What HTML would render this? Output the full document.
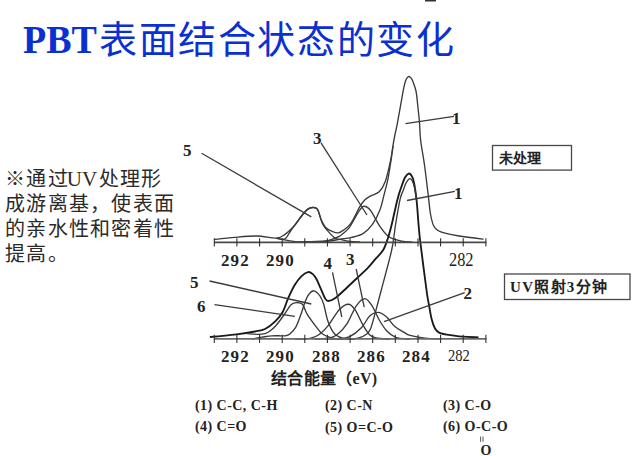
<!DOCTYPE html>
<html lang="zh-CN"><head><meta charset="utf-8">
<style>
html,body{margin:0;padding:0;background:#fff;}
body{width:640px;height:456px;position:relative;overflow:hidden;}
.a{position:absolute;white-space:nowrap;line-height:1;}
.sf{font-family:"Liberation Serif",serif;}
.ss{font-family:"Liberation Sans",sans-serif;}
.b{font-weight:bold;}
svg{position:absolute;left:0;top:0;}
</style></head><body>
<svg width="640" height="456" viewBox="0 0 640 456">
<path d="M214.2,239.5 C217.7,239.1 227.9,237.9 235.0,237.3 C242.1,236.7 250.1,235.9 257.0,236.0 C263.9,236.1 271.6,238.4 276.3,238.1 C281.0,237.8 281.9,236.6 285.0,234.4 C288.1,232.2 292.1,228.2 295.0,225.0 C297.9,221.8 300.4,217.6 302.5,215.0 C304.6,212.4 305.8,210.7 307.5,209.4 C309.2,208.2 310.8,207.5 312.5,207.5 C314.2,207.5 316.0,207.3 317.5,209.4 C319.0,211.5 319.8,216.9 321.3,220.0 C322.8,223.1 324.4,226.2 326.3,228.1 C328.2,230.0 330.5,230.7 332.5,231.5 C334.5,232.3 336.4,233.1 338.4,232.8 C340.4,232.5 342.5,230.9 344.5,229.5 C346.5,228.1 348.6,226.4 350.3,224.2 C352.1,221.9 353.5,218.8 355.0,216.0 C356.5,213.2 357.9,209.8 359.5,207.1 C361.1,204.4 362.8,201.8 364.7,199.9 C366.6,198.0 368.4,197.2 370.8,195.8 C373.2,194.4 376.8,194.1 379.2,191.7 C381.6,189.3 383.5,186.5 385.4,181.2 C387.3,176.0 389.4,165.9 390.6,160.4 C391.8,154.9 392.0,151.9 392.6,148.0 C393.2,144.1 393.7,141.2 394.5,137.0 C395.3,132.8 396.1,130.0 397.5,122.6 C398.9,115.2 401.5,99.7 402.8,92.8 C404.1,85.9 404.6,83.7 405.5,81.0 C406.4,78.3 407.3,77.3 408.1,76.7 C408.9,76.1 409.8,76.9 410.5,77.5 C411.2,78.1 411.6,78.2 412.5,80.5 C413.4,82.8 415.1,86.9 416.0,91.0 C416.9,95.1 417.1,99.7 417.7,105.0 C418.3,110.3 419.0,116.8 419.5,122.6 C420.0,128.4 419.8,132.9 420.6,140.0 C421.4,147.1 423.2,155.6 424.5,165.0 C425.8,174.4 427.4,188.4 428.4,196.6 C429.4,204.8 429.6,209.2 430.5,214.0 C431.4,218.8 432.2,222.8 433.5,225.5 C434.8,228.2 436.1,229.2 438.0,230.5 C439.9,231.8 441.5,232.3 445.0,233.2 C448.5,234.1 452.6,235.0 459.0,236.0 C465.4,237.0 479.5,238.7 483.6,239.2" stroke="#3a3a3a" stroke-width="1.35" fill="none"/>
<path d="M300.0,242.0 C304.2,241.9 318.4,241.9 325.0,241.5 C331.6,241.1 335.3,240.0 339.7,239.3 C344.1,238.6 347.7,238.4 351.6,237.4 C355.6,236.4 359.9,235.6 363.4,233.4 C366.9,231.2 369.8,228.1 372.6,224.2 C375.4,220.2 378.1,214.6 380.0,209.7 C381.9,204.8 382.8,199.7 384.0,195.0 C385.2,190.3 386.4,186.2 387.5,181.2 C388.6,176.2 389.5,169.7 390.3,165.0 C391.1,160.3 391.6,156.2 392.1,153.0 C392.6,149.8 392.9,147.2 393.1,146.0" stroke="#3a3a3a" stroke-width="1.35" fill="none"/>
<path d="M276.3,238.3 C277.8,238.4 282.5,240.1 285.0,238.8 C287.5,237.4 288.5,233.8 291.2,230.0 C294.0,226.2 298.5,219.7 301.2,216.2 C304.0,212.8 305.6,210.9 307.5,209.4 C309.4,207.9 310.8,207.5 312.5,207.5 C314.2,207.5 315.8,206.7 317.5,209.4 C319.2,212.1 320.8,220.2 322.5,223.8 C324.2,227.3 325.4,228.2 327.5,230.6 C329.6,233.0 332.9,236.6 335.0,238.1 C337.1,239.6 337.5,238.8 340.0,239.4 C342.5,240.0 346.7,241.1 350.0,241.5 C353.3,241.9 358.3,241.9 360.0,242.0" stroke="#3a3a3a" stroke-width="1.35" fill="none"/>
<path d="M276.3,238.1 C278.6,238.6 286.1,240.2 290.0,240.8 C293.9,241.4 296.7,241.7 300.0,241.9 C303.3,242.1 308.3,242.1 310.0,242.2" stroke="#3a3a3a" stroke-width="1.35" fill="none"/>
<path d="M305.0,242.0 C308.3,241.8 320.5,241.4 325.0,241.0 C329.5,240.6 329.4,240.1 331.8,239.3 C334.2,238.5 336.9,237.9 339.7,236.1 C342.5,234.2 345.8,232.1 348.9,228.2 C352.0,224.2 355.8,216.0 358.2,212.4 C360.6,208.8 361.6,207.1 363.4,206.4 C365.1,205.7 367.2,207.2 368.7,208.4 C370.2,209.6 370.9,210.9 372.6,213.7 C374.4,216.5 376.6,221.5 379.2,225.3 C381.8,229.1 384.8,233.8 388.5,236.5 C392.2,239.2 397.7,240.3 401.6,241.2 C405.5,242.1 410.3,241.9 412.0,242.0" stroke="#3a3a3a" stroke-width="1.35" fill="none"/>
<path d="M209.9,337.0 C214.3,336.6 229.1,335.2 236.6,334.3 C244.1,333.4 250.3,332.4 255.0,331.5 C259.7,330.6 261.6,330.7 265.0,329.0 C268.4,327.3 272.6,323.9 275.5,321.1 C278.4,318.3 280.6,315.8 282.7,312.0 C284.8,308.2 286.2,302.7 288.2,298.2 C290.2,293.7 292.5,288.6 294.7,285.0 C296.9,281.4 299.1,278.4 301.3,276.3 C303.5,274.2 306.0,272.5 307.9,272.1 C309.8,271.7 311.3,272.9 312.8,274.1 C314.3,275.3 315.3,276.9 316.7,279.5 C318.1,282.1 319.7,286.3 321.1,289.4 C322.5,292.5 323.8,296.3 325.0,298.2 C326.2,300.1 326.5,301.0 328.2,301.0 C329.9,301.0 332.0,300.4 335.0,298.3 C338.0,296.2 342.4,291.8 346.3,288.2 C350.2,284.6 354.7,280.3 358.2,277.0 C361.7,273.7 364.5,271.4 367.4,268.4 C370.2,265.4 372.7,262.3 375.3,259.2 C377.9,256.1 381.1,253.5 383.2,250.0 C385.3,246.5 386.6,242.2 388.0,238.0 C389.4,233.8 390.0,231.5 391.6,225.0 C393.2,218.5 395.8,205.9 397.5,199.2 C399.2,192.5 400.9,188.3 402.1,184.7 C403.4,181.1 403.9,179.3 405.0,177.5 C406.1,175.7 407.6,173.9 408.7,173.6 C409.8,173.3 410.6,174.1 411.5,175.5 C412.4,176.9 413.0,177.9 413.9,182.1 C414.8,186.3 415.8,193.3 416.6,200.5 C417.4,207.7 418.0,218.1 418.6,225.0 C419.2,231.9 419.0,231.2 420.3,242.0 C421.6,252.8 425.1,279.6 426.5,290.0 C427.9,300.4 428.0,299.7 428.9,304.5 C429.8,309.3 430.6,315.1 431.6,319.0 C432.6,322.9 433.6,325.9 434.9,328.2 C436.2,330.5 436.6,331.6 439.5,332.8 C442.4,334.0 448.7,334.8 452.6,335.4 C456.5,336.0 458.7,336.4 463.0,336.7 C467.3,337.0 475.9,337.2 478.5,337.3" stroke="#1a1a1a" stroke-width="1.85" fill="none"/>
<path d="M247.0,333.6 C248.8,333.7 255.0,334.4 258.0,334.4 C261.0,334.4 263.0,334.2 265.0,333.6 C267.0,333.0 268.2,332.4 270.0,331.0 C271.8,329.6 273.7,328.1 276.0,325.5 C278.3,322.9 281.1,319.0 283.6,315.5 C286.2,312.0 289.0,306.6 291.3,304.5 C293.6,302.4 295.6,302.7 297.5,302.7 C299.4,302.7 301.1,302.6 302.7,304.5 C304.3,306.4 304.9,310.5 307.1,314.1 C309.3,317.8 313.3,323.0 315.9,326.4 C318.5,329.8 319.7,332.2 322.9,334.3 C326.1,336.4 331.3,337.9 335.0,338.7 C338.7,339.5 343.3,339.1 345.0,339.2" stroke="#3a3a3a" stroke-width="1.35" fill="none"/>
<path d="M252.0,339.0 C253.7,338.7 258.7,337.7 262.0,337.2 C265.3,336.7 268.8,336.0 272.0,335.8 C275.2,335.6 278.7,335.8 281.0,335.8 C283.3,335.8 284.5,335.9 286.0,335.6 C287.5,335.3 288.2,335.5 289.8,334.1 C291.4,332.7 294.0,330.4 295.8,327.2 C297.6,324.0 299.1,319.5 300.7,315.1 C302.3,310.7 304.1,304.2 305.5,300.7 C306.9,297.2 307.7,295.6 309.1,294.0 C310.5,292.4 312.1,290.5 313.9,290.8 C315.7,291.1 318.3,293.6 319.9,295.8 C321.5,298.0 322.2,299.6 323.6,304.0 C325.0,308.4 326.3,316.9 328.2,322.0 C330.1,327.1 332.3,331.5 335.0,334.3 C337.7,337.1 341.2,337.9 344.5,338.7 C347.8,339.5 353.2,339.1 355.0,339.2" stroke="#3a3a3a" stroke-width="1.35" fill="none"/>
<path d="M295.0,339.2 C297.5,339.1 306.0,339.2 310.0,338.4 C314.0,337.6 316.1,336.7 319.2,334.5 C322.3,332.3 325.1,329.4 328.4,325.3 C331.7,321.2 335.9,313.2 339.2,309.7 C342.5,306.2 345.8,304.2 348.4,304.2 C351.0,304.2 352.6,306.2 355.0,309.7 C357.4,313.1 360.5,320.7 362.9,324.9 C365.3,329.1 367.3,332.5 369.5,334.7 C371.7,336.9 372.6,337.2 376.0,338.0 C379.4,338.8 387.7,339.0 390.0,339.2" stroke="#3a3a3a" stroke-width="1.35" fill="none"/>
<path d="M315.0,339.2 C317.5,339.0 326.2,338.9 330.0,338.0 C333.8,337.1 335.0,336.5 337.9,334.1 C340.8,331.7 344.0,328.3 347.1,323.6 C350.2,318.9 353.3,310.0 356.3,305.8 C359.3,301.6 362.3,298.6 364.9,298.6 C367.5,298.6 369.8,302.4 372.1,305.8 C374.4,309.2 376.3,314.8 378.7,319.0 C381.1,323.2 383.8,327.7 386.6,330.8 C389.5,333.9 391.9,336.0 395.8,337.4 C399.7,338.8 407.6,338.9 410.0,339.2" stroke="#3a3a3a" stroke-width="1.35" fill="none"/>
<path d="M325.0,339.2 C327.5,339.1 335.9,338.9 340.0,338.5 C344.1,338.1 346.1,338.5 349.7,336.7 C353.3,334.9 358.3,330.9 361.6,327.5 C364.9,324.1 366.8,318.8 369.5,316.3 C372.2,313.8 375.1,312.3 378.0,312.4 C380.9,312.5 383.9,314.7 386.6,317.0 C389.4,319.3 391.6,323.7 394.5,326.2 C397.4,328.7 401.1,330.6 403.7,332.1 C406.3,333.6 406.4,334.4 410.0,335.4 C413.6,336.4 420.0,337.6 425.0,338.2 C430.0,338.8 437.5,338.9 440.0,339.0" stroke="#3a3a3a" stroke-width="1.35" fill="none"/>
<path d="M345.0,339.2 C347.2,339.0 354.4,339.0 358.0,338.2 C361.6,337.4 364.7,335.8 366.8,334.1 C368.9,332.4 369.4,331.8 370.8,328.2 C372.2,324.6 373.6,318.8 375.4,312.4 C377.1,306.0 378.6,300.4 381.3,290.0 C384.0,279.6 389.3,260.8 391.7,250.0 C394.1,239.2 394.1,233.5 395.5,225.0 C396.9,216.5 398.8,205.0 400.1,199.2 C401.4,193.4 402.4,192.7 403.4,190.0 C404.4,187.3 405.0,184.9 406.0,183.0 C407.0,181.1 408.3,179.2 409.3,178.8 C410.3,178.4 411.1,179.0 412.0,180.5 C412.9,182.0 413.8,184.7 414.6,188.0 C415.4,191.3 416.3,198.4 416.6,200.5" stroke="#3a3a3a" stroke-width="1.35" fill="none"/>
<line x1="405.5" y1="123.7" x2="454" y2="116.3" stroke="#3a3a3a" stroke-width="1.3"/>
<line x1="321" y1="142.8" x2="367" y2="215" stroke="#3a3a3a" stroke-width="1.3"/>
<line x1="201.6" y1="153.2" x2="311.3" y2="216.9" stroke="#3a3a3a" stroke-width="1.3"/>
<line x1="209.6" y1="281" x2="311.3" y2="304" stroke="#3a3a3a" stroke-width="1.3"/>
<line x1="214.5" y1="304.7" x2="294.9" y2="316.3" stroke="#3a3a3a" stroke-width="1.3"/>
<line x1="332.5" y1="272.4" x2="341.8" y2="317" stroke="#3a3a3a" stroke-width="1.3"/>
<line x1="356.2" y1="269" x2="364.2" y2="307.1" stroke="#3a3a3a" stroke-width="1.3"/>
<line x1="384" y1="321.6" x2="464.7" y2="292.7" stroke="#3a3a3a" stroke-width="1.3"/>
<line x1="407" y1="200.5" x2="454.8" y2="191.3" stroke="#3a3a3a" stroke-width="1.3"/>
<line x1="214.3" y1="242.4" x2="486.4" y2="242.4" stroke="#4a4a4a" stroke-width="1.7"/>
<line x1="214.3" y1="238.2" x2="214.3" y2="246.6" stroke="#2a2a2a" stroke-width="1.05"/>
<line x1="236.9" y1="238.2" x2="236.9" y2="246.6" stroke="#2a2a2a" stroke-width="1.05"/>
<line x1="259.6" y1="238.2" x2="259.6" y2="246.6" stroke="#2a2a2a" stroke-width="1.05"/>
<line x1="282.2" y1="238.2" x2="282.2" y2="246.6" stroke="#2a2a2a" stroke-width="1.05"/>
<line x1="304.8" y1="238.2" x2="304.8" y2="246.6" stroke="#2a2a2a" stroke-width="1.05"/>
<line x1="327.4" y1="238.2" x2="327.4" y2="246.6" stroke="#2a2a2a" stroke-width="1.05"/>
<line x1="350.1" y1="238.2" x2="350.1" y2="246.6" stroke="#2a2a2a" stroke-width="1.05"/>
<line x1="372.7" y1="238.2" x2="372.7" y2="246.6" stroke="#2a2a2a" stroke-width="1.05"/>
<line x1="395.3" y1="238.2" x2="395.3" y2="246.6" stroke="#2a2a2a" stroke-width="1.05"/>
<line x1="418.0" y1="238.2" x2="418.0" y2="246.6" stroke="#2a2a2a" stroke-width="1.05"/>
<line x1="440.6" y1="238.2" x2="440.6" y2="246.6" stroke="#2a2a2a" stroke-width="1.05"/>
<line x1="463.2" y1="238.2" x2="463.2" y2="246.6" stroke="#2a2a2a" stroke-width="1.05"/>
<line x1="485.9" y1="238.2" x2="485.9" y2="246.6" stroke="#2a2a2a" stroke-width="1.05"/>
<line x1="214.3" y1="338.9" x2="486.4" y2="338.9" stroke="#6a6a6a" stroke-width="1.9"/>
<line x1="214.3" y1="334.7" x2="214.3" y2="343.1" stroke="#2a2a2a" stroke-width="1.05"/>
<line x1="236.9" y1="334.7" x2="236.9" y2="343.1" stroke="#2a2a2a" stroke-width="1.05"/>
<line x1="259.6" y1="334.7" x2="259.6" y2="343.1" stroke="#2a2a2a" stroke-width="1.05"/>
<line x1="282.2" y1="334.7" x2="282.2" y2="343.1" stroke="#2a2a2a" stroke-width="1.05"/>
<line x1="304.8" y1="334.7" x2="304.8" y2="343.1" stroke="#2a2a2a" stroke-width="1.05"/>
<line x1="327.4" y1="334.7" x2="327.4" y2="343.1" stroke="#2a2a2a" stroke-width="1.05"/>
<line x1="350.1" y1="334.7" x2="350.1" y2="343.1" stroke="#2a2a2a" stroke-width="1.05"/>
<line x1="372.7" y1="334.7" x2="372.7" y2="343.1" stroke="#2a2a2a" stroke-width="1.05"/>
<line x1="395.3" y1="334.7" x2="395.3" y2="343.1" stroke="#2a2a2a" stroke-width="1.05"/>
<line x1="418.0" y1="334.7" x2="418.0" y2="343.1" stroke="#2a2a2a" stroke-width="1.05"/>
<line x1="440.6" y1="334.7" x2="440.6" y2="343.1" stroke="#2a2a2a" stroke-width="1.05"/>
<line x1="463.2" y1="334.7" x2="463.2" y2="343.1" stroke="#2a2a2a" stroke-width="1.05"/>
<line x1="485.9" y1="334.7" x2="485.9" y2="343.1" stroke="#2a2a2a" stroke-width="1.05"/>
<rect x="492.5" y="145.5" width="79" height="24.6" fill="none" stroke="#484848" stroke-width="1.3"/>
<rect x="504.5" y="274" width="125.5" height="25.5" fill="none" stroke="#484848" stroke-width="1.3"/>
<rect x="425" y="0" width="11" height="1.5" fill="#333"/>
<line x1="480.6" y1="436.5" x2="480.6" y2="441.8" stroke="#444" stroke-width="0.9"/><line x1="483" y1="436.5" x2="483" y2="441.8" stroke="#444" stroke-width="0.9"/>
</svg>
<div class="a sf b" id="pbt" style="left:23px;top:21px;font-size:38px;transform:scaleY(1.08);transform-origin:0 36px;color:#0b30d2;">PBT</div>
<div class="a ss" id="title" style="left:99px;top:21px;font-size:38px;letter-spacing:1.6px;color:#0b30d2;">表面结合状态的变化</div>
<div class="a sf" id="para" style="left:5px;top:167px;font-size:20px;letter-spacing:1.25px;line-height:24.9px;color:#2a2a2a;white-space:normal;width:190px;">※通过<span style="letter-spacing:0;font-size:21px;margin-left:-2px;margin-right:1.5px">UV</span>处理形<br>成游离基，使表面<br>的亲水性和密着性<br>提高。</div>
<div class="a ss b" id="box1" style="left:499px;top:151px;font-size:14px;color:#222;">未处理</div>
<div class="a sf b" id="box2" style="left:510px;top:280px;font-size:15px;letter-spacing:1.3px;color:#222;">UV照射3分钟</div>
<div class="a sf b" style="left:183px;top:142px;font-size:17px;color:#222;">5</div>
<div class="a sf b" style="left:313px;top:130px;font-size:17px;color:#222;">3</div>
<div class="a sf b" style="left:452px;top:110px;font-size:17px;color:#222;">1</div>
<div class="a sf b" style="left:454px;top:185px;font-size:17px;color:#222;">1</div>
<div class="a sf b" style="left:190px;top:273.5px;font-size:17px;color:#222;">5</div>
<div class="a sf b" style="left:197px;top:297.5px;font-size:17px;color:#222;">6</div>
<div class="a sf b" style="left:323.5px;top:254.5px;font-size:17px;color:#222;">4</div>
<div class="a sf b" style="left:346px;top:251px;font-size:17px;color:#222;">3</div>
<div class="a sf b" style="left:463.5px;top:285px;font-size:17px;color:#222;">2</div>
<div class="a sf b" style="left:221px;top:252px;font-size:17px;letter-spacing:1.1px;color:#222;">292</div>
<div class="a sf b" style="left:266px;top:252px;font-size:17px;letter-spacing:1.1px;color:#222;">290</div>
<div class="a sf" style="left:448.5px;top:250px;font-size:19px;transform:scaleX(0.86);transform-origin:0 0;color:#222;">282</div>
<div class="a sf b" style="left:221px;top:348px;font-size:17px;letter-spacing:1.1px;color:#222;">292</div>
<div class="a sf b" style="left:266px;top:348px;font-size:17px;letter-spacing:1.1px;color:#222;">290</div>
<div class="a sf b" style="left:312px;top:348px;font-size:17px;letter-spacing:1.1px;color:#222;">288</div>
<div class="a sf b" style="left:357px;top:348px;font-size:17px;letter-spacing:1.1px;color:#222;">286</div>
<div class="a sf b" style="left:402px;top:348px;font-size:17px;letter-spacing:1.1px;color:#222;">284</div>
<div class="a sf" style="left:448px;top:347px;font-size:17px;transform:scaleX(0.86);transform-origin:0 0;color:#222;">282</div>
<div class="a sf b" id="xl" style="left:271px;top:370.5px;font-size:16px;letter-spacing:0.3px;color:#222;">结合能量（eV)</div>
<div class="a sf b" style="left:195px;top:399px;font-size:14px;letter-spacing:0.45px;color:#222;">(1) C-C, C-H</div>
<div class="a sf b" style="left:195px;top:420px;font-size:14px;letter-spacing:0.45px;color:#222;">(4) C=O</div>
<div class="a sf b" style="left:325px;top:399px;font-size:14px;letter-spacing:0.45px;color:#222;">(2) C-N</div>
<div class="a sf b" style="left:325px;top:421px;font-size:14px;letter-spacing:0.45px;color:#222;">(5) O=C-O</div>
<div class="a sf b" style="left:443px;top:399px;font-size:14px;letter-spacing:0.45px;color:#222;">(3) C-O</div>
<div class="a sf b" style="left:443px;top:420px;font-size:14px;letter-spacing:0.45px;color:#222;">(6) O-C-O</div>
<div class="a sf b" style="left:480.5px;top:444px;font-size:14px;color:#222;">O</div>
</body></html>
